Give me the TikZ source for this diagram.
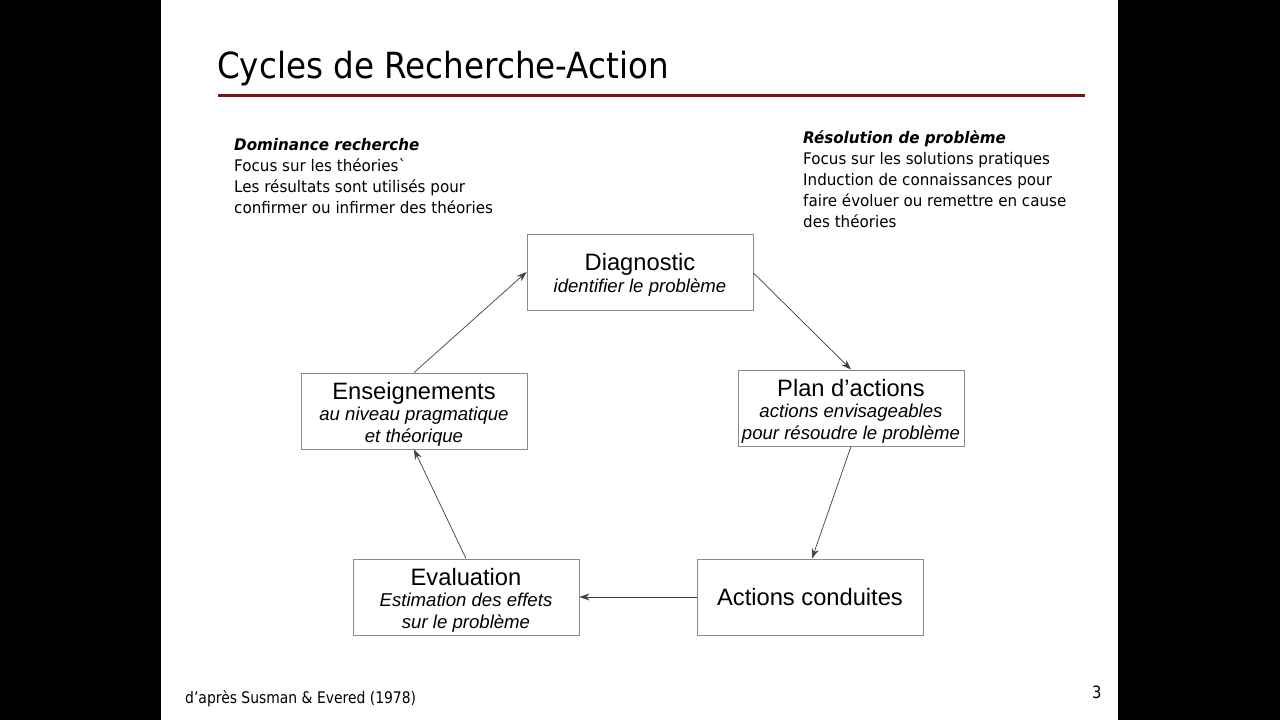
\documentclass[tikz,border=0pt]{standalone}
\usepackage{fontspec}
\setmainfont{Liberation Sans}
\newfontfamily\titlefont[FakeStretch=0.905]{DejaVu Sans}
\newfontfamily\footfont[FakeStretch=0.87]{DejaVu Sans}
\newfontfamily\sidefont[FakeStretch=0.945]{DejaVu Sans}
\usetikzlibrary{arrows.meta}
\definecolor{slidered}{HTML}{7A1414}
\definecolor{boxgray}{HTML}{8A8A8A}
\tikzset{
  stagebox/.style={draw=boxgray, line width=0.9pt, fill=white, minimum width=226pt, minimum height=76pt, inner sep=0pt, align=center, font=\fontsize{18.6}{21.5}\selectfont},
  flow/.style={draw=black!75, line width=0.7pt, -{Stealth[length=10pt,width=7pt]}},
  sidetext/.style={anchor=north west, align=left, inner sep=0pt, font=\sidefont\fontsize{16}{21}\selectfont},
}
\newcommand{\stagehead}[1]{{\fontsize{23.7}{27}\selectfont\rule{0pt}{23pt}#1}}
\newcommand{\stagesolo}[1]{{\fontsize{23.7}{27}\selectfont #1}}
\begin{document}
\begin{tikzpicture}[x=1pt,y=-1pt]
\useasboundingbox (0,0) rectangle (1280,720);
\fill[black] (0,0) rectangle (161,720);
\fill[black] (1118,0) rectangle (1280,720);
\fill[white] (161,0) rectangle (1118,720);
% title
\node[anchor=base west, inner sep=0pt, font=\titlefont\fontsize{36}{40}\selectfont] (title) at (217,78) {Cycles de Recherche-Action};
\draw[slidered, line width=3pt] (218,95) -- (1085,95);
% side texts
\node[sidetext] (left) at (234,138) {\textbf{\textit{Dominance recherche}}\\Focus sur les théories`\\Les résultats sont utilisés pour\\confirmer ou infirmer des théories};
\node[sidetext] (right) at (803,130.5) {\textbf{\textit{Résolution de problème}}\\Focus sur les solutions pratiques\\Induction de connaissances pour\\faire évoluer ou remettre en cause\\des théories};
% boxes
\node[stagebox] (diag) at (640,272) {\stagehead{Diagnostic}\\\textit{identifier le problème}};
\node[stagebox] (plan) at (851,408) {\stagehead{Plan d’actions}\\\textit{actions envisageables}\\\textit{pour résoudre le problème}};
\node[stagebox] (act) at (810,597) {\stagesolo{Actions conduites}};
\node[stagebox] (eval) at (466,597) {\stagehead{Evaluation}\\\textit{Estimation des effets}\\\textit{sur le problème}};
\node[stagebox] (ens) at (414,411) {\stagehead{Enseignements}\\\textit{au niveau pragmatique}\\\textit{et théorique}};
% arrows
\draw[flow] (diag.east) ++(0,1) -- (plan.north);
\draw[flow] (plan.south) -- ([xshift=2pt]act.north);
\draw[flow] (act.west) -- (eval.east);
\draw[flow] (eval.north) -- (ens.south);
\draw[flow] (ens.north) -- (diag.west);
% footer
\node[anchor=base west, inner sep=0pt, font=\footfont\fontsize{16}{20}\selectfont] (src) at (185,703) {d’après Susman \& Evered (1978)};
\node[anchor=base west, inner sep=0pt, font=\footfont\fontsize{17}{20}\selectfont] (num) at (1092,698) {3};
\end{tikzpicture}
\end{document}
